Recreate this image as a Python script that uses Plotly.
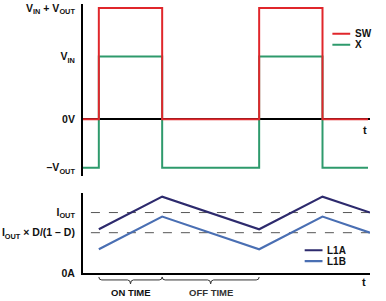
import plotly.graph_objects as go

# ---- data ----
V_IN = 9.0
V_OUT = 7.0
I_OUT = 3.0
I_OUT_D = 2.0

t_edges = [0, 16, 80, 178, 242, 288]          # switching instants (time units)
sw_vals = [0, V_IN + V_OUT, 0, V_IN + V_OUT, 0, 0]
x_vals = [-V_OUT, V_IN, -V_OUT, V_IN, -V_OUT, -V_OUT]

t_ramp = [16, 80, 178, 242, 290]
l1a_vals = [2.17, 3.79, 2.17, 3.79, 3.0]
l1b_vals = [1.18, 2.80, 1.18, 2.80, 2.0]

top_ticks = [V_IN + V_OUT, V_IN, 0, -V_OUT]
top_labels = ["<b>V<sub>IN</sub> + V<sub>OUT</sub></b>", "<b>V<sub>IN</sub></b>", "<b>0V</b>", "<b>–V<sub>OUT</sub></b>"]
bot_ticks = [I_OUT, I_OUT_D, 0]
bot_labels = ["<b>I<sub>OUT</sub></b>", "<b>I<sub>OUT</sub> × D/(1 – D)</b>", "<b>0A</b>"]
phase_labels = ["<b>ON TIME</b>", "<b>OFF TIME</b>"]

RED = "#e0262b"
GREEN = "#2e9a6c"
NAVY = "#2d2a6d"
BLUE = "#4a6fb3"
FONT = "Liberation Sans"
H = 271.0

fig = go.Figure()
fig.add_trace(go.Scatter(x=t_edges, y=x_vals, mode="lines", line=dict(color=GREEN, width=2, shape="hv"),
                         xaxis="x", yaxis="y", showlegend=False))
fig.add_trace(go.Scatter(x=t_edges, y=sw_vals, mode="lines", line=dict(color=RED, width=2, shape="hv"),
                         xaxis="x", yaxis="y", showlegend=False))
fig.add_trace(go.Scatter(x=t_ramp, y=l1a_vals, mode="lines", line=dict(color=NAVY, width=2.2),
                         xaxis="x2", yaxis="y2", showlegend=False))
fig.add_trace(go.Scatter(x=t_ramp, y=l1b_vals, mode="lines", line=dict(color=BLUE, width=2.2),
                         xaxis="x2", yaxis="y2", showlegend=False))

shapes = []
for lvl in [I_OUT, I_OUT_D]:
    shapes.append(dict(type="line", xref="x2", yref="y2", x0=8, x1=290, y0=lvl, y1=lvl,
                       line=dict(color="#555555", width=1, dash="dash"), layer="below"))

# braces under the bottom axis (paper y below the plot)
def py(px):
    return -(px - 273) / H

y0, y1, y2 = py(277), py(280), py(284)
phases = [(t_edges[1], t_edges[2]), (t_edges[2], t_edges[3])]
for a, b in phases:
    m = (a + b) / 2
    path = (f"M {a},{y0} Q {a},{y1} {a+3},{y1} L {m-3},{y1} Q {m},{y1} {m},{y2} "
            f"Q {m},{y1} {m+3},{y1} L {b-3},{y1} Q {b},{y1} {b},{y0}")
    shapes.append(dict(type="path", xref="x2", yref="paper", path=path,
                       line=dict(color="#333333", width=1)))

# legend lines
for (yv, col, ax) in [(12.29, RED, "y"), (10.71, GREEN, "y"), (1.13, NAVY, "y2"), (0.59, BLUE, "y2")]:
    x0, x1 = (252, 270) if ax == "y" else (224, 242)
    shapes.append(dict(type="line", xref="x" if ax == "y" else "x2", yref=ax, x0=x0, x1=x1, y0=yv, y1=yv,
                       line=dict(color=col, width=2.2)))

ann = []
for (yv, txt, ax, xx) in [(12.29, "SW", "y", 273), (10.71, "X", "y", 273), (1.13, "L1A", "y2", 245), (0.59, "L1B", "y2", 245)]:
    ann.append(dict(x=xx, y=yv, xref="x" if ax == "y" else "x2", yref=ax, text="<b>%s</b>" % txt, showarrow=False,
                    xanchor="left", yanchor="middle", font=dict(family=FONT, size=10, color="#111111")))
ann.append(dict(x=285, y=-1.6, xref="x", yref="y", text="<b>t</b>", showarrow=False, xanchor="center",
                yanchor="middle", font=dict(family=FONT, size=11, color="#111111")))
ann.append(dict(x=284, y=py(282), xref="x2", yref="paper", text="<b>t</b>", showarrow=False, xanchor="center",
                yanchor="middle", font=dict(family=FONT, size=11, color="#111111")))
for (a, b), lab, col in zip(phases, phase_labels, ["#111111", "#333333"]):
    ann.append(dict(x=(a + b) / 2, y=py(293), xref="x2", yref="paper", text=lab, showarrow=False,
                    xanchor="center", yanchor="middle", font=dict(family=FONT, size=9.5, color=col)))

fig.update_layout(
    width=386, height=301,
    margin=dict(l=80, r=16, t=2, b=28, pad=0),
    paper_bgcolor="white", plot_bgcolor="white",
    font=dict(family=FONT, size=10, color="#111111"),
    xaxis=dict(domain=[0, 1], range=[0, 290], showgrid=False, zeroline=False, showticklabels=False,
               showline=False, anchor="y"),
    yaxis=dict(domain=[(273 - 175) / H, 1], range=[-(175 - 118) / 7.0, (118 - 2) / 7.0], showgrid=False,
               zeroline=True, zerolinecolor="black", zerolinewidth=2,
               showline=True, linecolor="black", linewidth=2, tickmode="array", tickvals=top_ticks,
               ticktext=top_labels, ticks="", ticklabelstandoff=4, anchor="x", ticklabeloverflow="allow",
               tickfont=dict(family=FONT, size=10.5, color="#111111")),
    xaxis2=dict(domain=[0, 1], range=[0, 290], showgrid=False, zeroline=False, showticklabels=False,
                showline=True, linecolor="black", linewidth=2, anchor="y2"),
    yaxis2=dict(domain=[0, (273 - 192) / H], range=[0, (273 - 192) / 20.3], showgrid=False, zeroline=False,
                showline=True, linecolor="black", linewidth=2, tickmode="array", tickvals=bot_ticks,
                ticktext=bot_labels, ticks="", ticklabelstandoff=4, anchor="x2", ticklabeloverflow="allow",
                tickfont=dict(family=FONT, size=10.5, color="#111111")),
    shapes=shapes, annotations=ann, showlegend=False,
)
fig.write_html("out.html")
